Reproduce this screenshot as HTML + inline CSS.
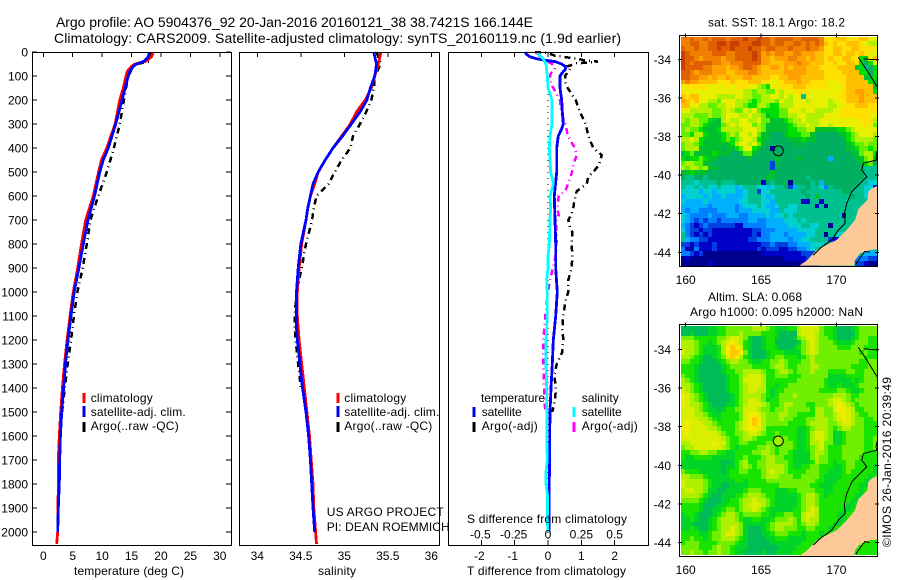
<!DOCTYPE html>
<html>
<head>
<meta charset="utf-8">
<title>Argo profile</title>
<style>
html,body{margin:0;padding:0;background:#fff;}
#fig{display:block;}
text{font-family:"Liberation Sans",sans-serif;font-size:12px;fill:#000;}
.big{font-size:14px;}
</style>
</head>
<body>
<svg id="fig" width="900" height="580" viewBox="0 0 900 580" xmlns="http://www.w3.org/2000/svg">
<rect x="0" y="0" width="900" height="580" fill="#fff"/>
<g id="marks"></g>
<text class="big" x="56" y="27" textLength="477" lengthAdjust="spacing">Argo profile: AO 5904376_92 20-Jan-2016 20160121_38 38.7421S 166.144E</text>
<text class="big" x="54" y="43" textLength="567" lengthAdjust="spacing">Climatology: CARS2009. Satellite-adjusted climatology: synTS_20160119.nc (1.9d earlier)</text>
<text x="74" y="575" textLength="110">temperature (deg C)</text>
<text x="318" y="575" textLength="38">salinity</text>
<text x="467" y="575" textLength="159">T difference from climatology</text>
<text x="467" y="523" textLength="160">S difference from climatology</text>
<text x="90.7" y="402" textLength="62">climatology</text>
<text x="90.7" y="416" textLength="95">satellite-adj. clim.</text>
<text x="90.7" y="430" textLength="88">Argo(..raw -QC)</text>
<text x="344.3" y="402" textLength="62">climatology</text>
<text x="344.3" y="416" textLength="95">satellite-adj. clim.</text>
<text x="344.3" y="430" textLength="88">Argo(..raw -QC)</text>
<text x="326.7" y="516" textLength="117">US ARGO PROJECT</text>
<text x="326.7" y="531" textLength="123">PI: DEAN ROEMMICH</text>
<text x="481" y="402" textLength="64">temperature</text>
<text x="581.7" y="402" textLength="37">salinity</text>
<text x="481.7" y="416" textLength="40">satellite</text>
<text x="581.7" y="416" textLength="40">satellite</text>
<text x="481.7" y="430" textLength="56">Argo(-adj)</text>
<text x="581.7" y="430" textLength="56">Argo(-adj)</text>
<text x="708" y="26.5" textLength="137">sat. SST: 18.1 Argo: 18.2</text>
<text x="708" y="301" textLength="94">Altim. SLA: 0.068</text>
<text x="690" y="316" textLength="173">Argo h1000: 0.095 h2000: NaN</text>
<text transform="translate(891,547) rotate(-90)" x="0" y="0" textLength="170">©IMOS 26-Jan-2016 20:39:49</text>
</svg>
<script>
// ---------- profile data ----------
const tempDepth = [0,20,30,40,50,60,80,100,150,200,300,400,450,500,600,700,800,900,1000,1100,1200,1300,1400,1500,1600,1700,1800,1900,2000,2050];
const tempClim = [18.7,18.4,17.9,17.3,15.6,15.0,14.3,14.05,13.6,13.0,12.2,10.8,9.9,9.4,8.5,7.2,6.5,5.85,5.1,4.55,4.05,3.6,3.25,2.96,2.72,2.55,2.55,2.5,2.44,2.27];
const tempSat = [18,17.85,17.45,17,15.9,15.3,14.7,14.45,13.9,13.4,12.3,11.05,10.2,9.6,8.7,7.6,6.8,6.05,5.25,4.7,4.2,3.75,3.45,3.12,2.9,2.78,2.72,2.55,2.44];
const tempArgo = [18.25,18.1,18.05,18,15.9,15.3,14.85,14.45,14.05,13.7,13,12,11.4,10.8,9.35,8,7.4,6.7,5.8,5.2,4.7,4.15,3.65,3.2];

const salDepth = [0,20,50,100,150,200,250,300,350,400,450,500,550,600,650,700,800,900,1000,1100,1150,1200,1300,1400,1500,1600,1700,1800,1900,2000,2050];
const salClim = [35.42,35.41,35.39,35.35,35.31,35.24,35.14,35.07,34.97,34.87,34.78,34.7,34.66,34.61,34.58,34.56,34.51,34.48,34.46,34.46,34.47,34.48,34.51,34.54,34.57,34.6,34.62,34.64,34.65,34.67,34.68];
const salSat = [35.34,35.35,35.37,35.35,35.3,35.26,35.18,35.08,34.98,34.87,34.78,34.7,34.64,34.61,34.58,34.56,34.5,34.47,34.45,34.45,34.45,34.46,34.49,34.52,34.56,34.59,34.61,34.625,34.64,34.66];
const salArgo = [35.37,35.39,35.42,35.35,35.34,35.31,35.25,35.18,35.1,35.07,34.97,34.89,34.82,34.68,34.65,34.63,34.56,34.51,34.45,34.43,34.43,34.44,34.47,34.5];

const diffTSatDepth = [0,10,20,30,40,50,60,70,90,100,150,200,250,300,320,350,400,500,600,700,800,900,1000,1100,1200,1300,1400,1500,1600,1800,2000];
const diffTSat = [-0.69,-0.64,-0.54,-0.29,0.21,0.41,0.51,0.53,0.41,0.36,0.36,0.41,0.43,0.46,0.41,0.31,0.26,0.26,0.19,0.21,0.23,0.23,0.28,0.23,0.16,0.13,0.09,0.06,0.05,0.04,0.04];
const diffSSatDepth = [0,10,20,30,50,100,150,200,300,350,400,500,550,600,650,700,800,850,900,950,1000,1100,1200,1300,1400,1500,1600,1700,1750,1800,1850,1950,2000];
const diffSSat = [-0.07,-0.07,-0.05,-0.035,-0.015,-0.005,0,0.03,0.03,0.015,0.01,0.02,0.04,0.015,0.02,0.015,0.01,0,0,-0.01,-0.005,-0.005,-0.015,-0.015,-0.01,-0.01,-0.01,-0.005,-0.015,-0.015,-0.003,-0.005,0];
const diffTArgoDepth = [0,5,15,25,30,35,40,48,55,60,70,90,100,130,150,200,250,300,350,400,430,470,500,520,550,580,620,650,680,700,730,750,800,850,900,950,1000,1030,1100,1150,1200,1250,1300,1350,1400,1450,1500];
const diffTArgo = [-0.39,0.01,0.2,0.7,0.95,1.1,1.5,0.85,0.7,0.56,0.66,0.56,0.51,0.53,0.59,0.83,0.96,1.13,1.21,1.36,1.61,1.53,1.36,1.21,1.16,0.86,0.79,0.76,0.69,0.61,0.66,0.73,0.71,0.73,0.71,0.61,0.61,0.53,0.46,0.43,0.46,0.43,0.26,0.19,0.24,0.21,0.13];
const diffSArgoDepth = [0,20,30,50,60,70,90,100,130,150,200,250,300,350,400,430,470,500,550,580,600,650,680,700,720,780,830,870,950,1000,1100,1200,1300,1400,1490];
const diffSArgo = [-0.085,-0.06,-0.035,0.03,0.05,0.05,0.02,0.015,0.02,0.04,0.09,0.1,0.13,0.15,0.2,0.215,0.19,0.18,0.15,0.13,0.08,0.07,0.08,0.06,0.06,0.065,0.06,0.05,0.015,0,-0.02,-0.035,-0.035,-0.03,-0.022];

// ---------- tick labels ----------
const depthTicks = [0,100,200,300,400,500,600,700,800,900,1000,1100,1200,1300,1400,1500,1600,1700,1800,1900,2000];
const tempTicks = [0,5,10,15,20,25,30];
const salTicks = [34,34.5,35,35.5,36];
const diffTTicks = [-2,-1,0,1,2];
const diffSLabels = ["-0.5","-0.25","0","0.25","0.5"];
const diffSTicks = [-0.5,-0.25,0,0.25,0.5];
const lonTicks = [160,165,170];
const latTicks = [-34,-36,-38,-40,-42,-44];

// ---------- map data: one letter per cell, A (low) .. T (high) ----------
const sstRows = [
"QQRQQRQRRRQ RRRSRRSRRQR RRRQQRRRRQN NNOONNNOOMM",
"QQRRQQRRSSR SSRRRSSRRQR RQQRRQRQRQO NONNOOONMLL",
"RQQRQQRRSRR SRRRSRRQRRQ QQRQQQRQQPN NOONNOONNNM",
"SRQQQQQRRRQ QRRRRSRPQPQ QPPQQPPPOON NOONOONONMM",
"SRRQPQQQQPQ QRRRRSRPPOP PPQQPPOPOON ONNOONNJIMO",
"SRQRRRRQQPP QQQRRRRPPOO OPPPQPPOOON NOMNOONJHJM",
"SRRRRQQPPPO PPQRRQPOOPP OPOPPPOOONN NNOOOOIJGHJ",
"RRQPQQQPPPO OPPPQQPOOOO OPPPPPOOOON NNNOOOOJJHJ",
"RRQQPPOPOOP OOOPPOOOONN OOPPPOOOOON NNNNOOOOIIJ",
"PQPPOOOONNN ONNNOOONNMM NOOOPOONNNN MMNNOOOOOJI",
"MNNNNNMMMMN MNNNMMLKJMN NNNOOONNNNN MMMNOOOOOOI",
"NMMMMMMMMMM MMMLLKLLKKM LMMNNNNMMMM MMMNOOPPOOJ",
"ONOOMMMMLLL LMMLLKKLLMM LMLMMGMMMMM MMNNOOOPOOO",
"PONOMMLLKMM MLLLKJKLLLK MLLMMMLMMMM LMMNOOOPOOO",
"OOMMLLKKLLM MLLKJJLLKJJ LLLMMMMMMMM LLMMNNOOONN",
"MMLLLLLKKLM LKKMLMKJJJJ KKMMMLMMLLL LMMNNNNNNNN",
"LLLKKKLKKLM MMLLMLLKIJJ KKLLMMLLLLM MMMNNNNNNMM",
"LKLLKKJIILM LLMMLLMKKII IJKLLMLLLMM MMMMMMMNNNL",
"KKLLKJIIIKL MLMMMKLKIII IIJKLLMLLMM LMMMMMMMNMK",
"KLKKJIIIJLL LLLMMMLKIII IIJJKKLLIII IIJJKLMMMMM",
"KKJLLJIIIJK LKMMLMKIIHH HIJJJKKIHHH HHIIJKLMMML",
"LLMLJIIIIJK JKLMMLJIIHH HHIIIJIIHHH HHHHJKLLLLK",
"KLLKJIIIIII JLMMLMKIHHH HHHIHIHHHHH HHHHIJKKLKK",
"KLLLIIIIIHI IJKMMJIHHAH HHHHHHHHHHH HHHHIIJKKJK",
"IJKIIIIJIII HHIKKIHHHHH HHHHHHHHHHH HHHHHIIKLLJ",
"JIJJKJIIHHH HHHHIHHHHHI HHHHIHHHHHH EHHHHHIIKLI",
"KLLKKIIHHHH HHHHHHHHHCI HHHHHHHHHHH HHHHHHHIJKH",
"LKLLKLIIHHH HHHHHHHHHCH HHHHHHHHHHH HHHHHHHHGGG",
"IIJIIIHHHHH HHHHHHHHHIH HHHHHHHHHHH HHHHHHHHGGG",
"HGGHHGHHHHH HHHHHHHHIIH HHHHHHGHHHH HHHHHHHHGGG",
"GGGFGGGGHGG GHHHHHHBHGH HHAHHHHGHEH HHHHHHHGGFF",
"GFFGFGFFGFF FEFGGGFFEFG GHCEGGHGGFD GHHHHHGGFFB",
"FFFFEFFEFFF FEEFGGCFFGG GGGGGHGGGGG GGGHHGGGFFF",
"EFFFFEFEEFE EEEFGGGFEFG GGGGGGHGIGG GGGGGHGGFFF",
"FEEEEFEEEEE EEFFGGGFFEG GGGGGBBGGBG GGGGGGGGGFF",
"EEEEEEDEEEE EDEFFFGFEEF GGFFGGGGBGA GGGGGGGGGGG",
"EDEEDDDDEEE EDEEEFFFFEE GFFFGGGGGGG GGGGGGGGGGG",
"FEDDDDEDDDE EEDDEEEEFEF FGFGGGGGGGG GGGBGGGGGGG",
"FEDCDCDDCDD DDDDEEDDEEE EFFFGFGGGGG GGGGGGGGGGG",
"EDCBCDCCCCC CBBDDDDDEEE EEFFFGGFFGG AGGGGGGGGGG",
"FDCCBCCBBBB BBBBBCCDDDE EEEEFFFFGGG GGGGGGGGGGG",
"GDCBCBCBBBB BBBBBCBDDEE EDEEEEFFGGA GGFFGGGGGGG",
"GEDDCCBBBBB BBBBCCDDDEE EEDEEFFGGGG CBBBGGGGGGG",
"CCBCBBBCBBB BBBBBBBCCDC CCDDEEEFFFG GBBBAGGGGGG",
"DBADBBBCBBB BBBBBBCBCCC BBCCDDEFGGC CBBAAAGGGGG",
"DDCBCAAAAAA AAAAAAABBBB BBBBBCCCBBB BAGGGGGGEEE",
"ABAAAAAAAAA AAAAAAAAAAA ABBBBBCCBAB GGGGGGDDDCC",
"AAAAAABAAAA AAAAAAAAAAA AAAAABBBBGG GGGGGGCCBAA"
];
const slaRows = [
"HHHHHHIIJJK KKKKKLLLKJI IIJJLMMMMKJ JIHHHIJKKKK",
"HHIHHHIIJJK KKLKKKKJJJI HHHHLMMMLKJ JIHHHHJKKKK",
"KKKJJJJJKKL MMLKIHHIJJI HHHIKLMMLKK JIHHHIJKKJJ",
"LLLKJJIJKLM NMLJIHHIJJH HHHHIKLMLKK KJIIIJKKKJJ",
"LLLKJIIIJLN ONMJIHHIJJI HHHIJKLMLKK KKJJJKKKJJJ",
"MLLKJIIIJLN OONKIHHHIJJ JIIIIKLMLKK KKKKKKKJKJJ",
"LLKJIHHIJKM ONLJIHHHIJK KJJJIJKLKKK KKKKKKKKJJJ",
"KKJJIHHHIJK LLKKJIIJJKK LKJJJKKLKKK KKKKKKKJJKK",
"JJJIHHHHHIJ KKKKKJJJJKL LKJJKKKLLKK KKKKKJJJJKK",
"JJJIHHHHHIJ JKKLLLLKJJK LLKJKKKLKKK JJJJKKJJKKK",
"KJJIHHHHHHI JJKLMMMLJJK KKJJJKKKKKK IIIIJJJJKKK",
"LKJIHHHHHHI JJKMMMMLJJJ JJJJKKKKKKJ IIIIIJIJKKK",
"LLKJIHHHHHI JJKLMMMLJJI JJKKKKKKKKJ IIJIIIJKKKK",
"MLKJIHHHHHI JJKLMMLLJIJ JKKKKKKKKJJ JJKKJIIJKKK",
"NMLKJIHHHHH IJKLLLLKJIJ KKKLKKKKKKK KLLLKJJKKKK",
"NMLKJIHHHHH IJKLMMLKIJJ KKKKKKKKKKK LMMLKJKKKKK",
"NMLLKJIHHHI IJKLMMMLKJJ KLLKKKJJKKK LMNMLKJKKKK",
"MMMLKJIIHIJ JKKMMMLKKJK KLKKKKKJLLK KMNNMLJJKKK",
"MMMLLKJIIJJ JJKMNNMLKKK LLKKJJJJLLK KLMNMLKJJKK",
"MMMMLLKJIJJ JJKMNONLKKK LKKJJJKKLLL KLMNMLKKJJK",
"MNMMMLLKJJJ JKLMNONLKKK KKJJJJKLLLL KKLMMLKKJJJ",
"NNMMMMLLKJJ JKLMNNMLJJJ JJJJIIJKLLL KJKLLKKKJJJ",
"MNMMMMMMLKJ JKKLMMLKJJK JJJJIIJLMML KIIJKKKKJJJ",
"MMMMMMMMMLK JJKLLKJJJJK KKJJIIJLMML KIIJKKKKJJK",
"LLMMMMMNMMK JJKKJJJJKKL KKKJIIJLLMK KIIJKKKKJJK",
"KLLMMMMMMLK JIJJJJKKLKJ KKKJIIJKLMK JJJKKKKKJJK",
"JJKKLLKKJJI IJJJJKKLLKJ KKJIIIIKLLK JJJKKKKKJJJ",
"JIIJJJJIIII IJJKJJJKLLK KJJIIIIKLKK JJJKKKKJJJJ",
"IIIIIIIIIHH IJKLJJKKLLK KKJIIIIJLKK JIJJKKJJJJJ",
"IIIIIIIIIHI IJKLKJKKLLL LKJIIJJKKJJ JIIJKKJJJJI",
"KJJJIIIIIHI JJKKJJJKLML LKJJJJKKKJJ IIIJKJJJJJI",
"LLKKKJIIIII JJJJJJJKLLL KKKJJKKKKJI IIIJJJJJJIJ",
"MLLLLKJIIII IJJIJJJJKKK KKKKKKKKJJI IIJJJJJJIIJ",
"MLLLLKJIIHH IIIIJJJJJJJ KKKKKKKJJII IJJJJJJIIJJ",
"LMMLLKIIHHI IIIJKKKJJJI IIJJKKKKJJI IJJJJJJIJJJ",
"LLLLKJIHHII IJJKLLLKJJI IIIIJKLLKJI JJJJJJIIJJJ",
"KKKKJIHHHII JJKLLMLLKJI IIIIJKLLKJJ JJJJJIIJJJJ",
"JJJJIHHHIIJ JJKLMMMLKJI IIIIJKLLKJJ JJJJIIJJJJJ",
"JJJJIHHIIJK KJKLLMLKJII IIIJJKLMLJJ JJJIIJJJJJJ",
"IJJIHHHIJKL LKJKKKKJJIJ JKKJJLMMLJJ JJIIJJJJJJJ",
"IIJIHHIJKLL LKJIIJJIIJK KKLKJLMLLJJ JJIIJJJJJJJ",
"IIIHHHIJKLL LLKIIIIIJKL LLLKJKLLKJJ JIIJJJJJJJJ",
"IIJIHHIJKLL MLKIHHHIJKL LKKKJJKKJJJ IJJJJJJJJJJ",
"JJJJIIJKKLM MLKIHHHIIJK KKJJJIJJJIJ JJJJJJJJJJJ",
"JJKJJIJKKLL LKJIHHHHIIJ JJIIIIJJJJJ JJJJJJJJJJJ",
"JKKKJJJJKKK KJIIHHHHHII IIIIIJJJJJJ JJJJKLKKJJJ",
"KKKKJJJKLKK JIIIHHHHHHH IIIIJJJJJJJ JJJJJJJJJJJ",
"KKLKKJKKLKK JIIHHHHIHHI IIIJJJJJJJJ JJJJIIJJJJJ"
];
const levelCodes = "ABCDEFGHIJKLMNOPQRST";
const sstColors = ["#000090","#0000c8","#0040e0","#0080ff","#00b0ff","#00d0d0","#00c090","#00b060","#00c030","#00e000","#60f000","#b0f000","#e8f000","#ffe000","#ffc000","#ffa000","#f08000","#e06000","#c84000","#b03000"];
const slaColors = ["#000090","#0000c8","#0040e0","#0080ff","#00b0ff","#00d0d0","#00c090","#00bc58","#00d428","#18e400","#70f000","#aef000","#d8f000","#f4ec00","#ffc800","#ffa000","#f08000","#e06000","#c84000","#b03000"];

// coast and contours in lon / lat
const landLon = [172.72,172.35,172.12,172.06,171.46,171.24,170.69,170.02,169.58,168.69,168.03,167.54,171.17,171.24,171.57,172.23,172.72];
const landLat = [-40.56,-40.68,-40.86,-41.29,-41.75,-42.32,-42.84,-43.36,-43.53,-43.88,-44.43,-44.69,-44.69,-44.4,-44.05,-43.88,-43.84];
const contourALon = [171.46,171.79,172.01,172.35,172.72];
const contourALat = [-33.9,-34.29,-34.55,-34.98,-35.45];
const contourBLon = [171.79,172.2,172.72];
const contourBLat = [-33.97,-34.0,-34.03];
const contourCLon = [172.72,172.63,172.68,171.79,171.68,172.01,171.46,171.02,170.69,170.53,170.58,170.13,169.69,168.92,168.47];
const contourCLat = [-38.70,-39.04,-39.22,-39.39,-39.73,-40.08,-40.51,-40.86,-41.46,-41.98,-42.50,-42.84,-43.36,-43.79,-44.14];
const contourDLon = [171.3,171.6,171.9,172.2];
const contourDLat = [-44.6,-44.25,-43.95,-44.0];
const argoLon = 166.144;
const argoLat = -38.7421;

// ---------- axis functions ----------
function yDepth(d){return 52+0.24*d;}
function xTemp(v){return 43.3+5.883*v;}
function xSal(v){return 257.3+87*(v-34);}
function xDiffT(v){return 548+33.33*v;}
function xDiffS(v){return 548+133.3*v;}
function xLon(v){return 685.7+15.07*(v-160);}
function yLatTop(v){return 59.3+19.3*(-34-v);}
function yLatBottom(v){return 349.3+19.33*(-34-v);}

const NS = "http://www.w3.org/2000/svg";
const marks = document.getElementById("marks");
function make(tag, attrs){
  const el = document.createElementNS(NS, tag);
  for (const k in attrs) el.setAttribute(k, attrs[k]);
  marks.appendChild(el);
  return el;
}
function pointsFor(depths, values, xFn){
  const pts = [];
  for (let i = 0; i < values.length; i++) pts.push(xFn(values[i]).toFixed(1)+","+yDepth(depths[i]).toFixed(1));
  return pts.join(" ");
}
function drawCurve(depths, values, xFn, color, dash, name){
  const el = make("polyline", {points: pointsFor(depths, values, xFn), fill: "none", stroke: color, "stroke-width": dash ? 2.5 : 2.8, "shape-rendering": "crispEdges"});
  if (dash) el.setAttribute("stroke-dasharray", dash);
  
  
}
function drawTick(x1, y1, x2, y2){
  const el = make("line", {x1: x1, y1: y1, x2: x2, y2: y2, stroke: "#000", "stroke-width": 1, "shape-rendering": "crispEdges"});
  
  
}
function drawLabel(x, y, anchor, str){
  const el = make("text", {x: x, y: y, "text-anchor": anchor});
  el.textContent = str;
  
  
}
function drawFrame(x0, y0, x1, y1, name){
  const el = make("rect", {x: x0, y: y0, width: x1-x0, height: y1-y0, fill: "none", stroke: "#000", "stroke-width": 1, "shape-rendering": "crispEdges"});
  
  
}
function drawLegendBar(x, y0, y1, color){
  const el = make("line", {x1: x, y1: y0, x2: x, y2: y1, stroke: color, "stroke-width": 3, "shape-rendering": "crispEdges"});
  
  
}

const DASH = "6 4 1 4";
const RED = "#ff0000", BLUE = "#0000ff", CYAN = "#00ffff", MAGENTA = "#ff00ff";

// ---------- temperature panel ----------
drawCurve(tempDepth, tempArgo, xTemp, "#000", DASH, "temperature-argo-line");
drawCurve(tempDepth, tempClim, xTemp, RED, null, "temperature-climatology-line");
drawCurve(tempDepth, tempSat, xTemp, BLUE, null, "temperature-satellite-line");
drawFrame(32.5, 52.5, 231.5, 545.5, "temperature-panel-frame");
for (const d of depthTicks) {
  drawTick(32, yDepth(d), 37, yDepth(d));
  drawTick(226, yDepth(d), 231, yDepth(d));
  drawLabel(28, yDepth(d)+4.5, "end", String(d));
}
for (const t of tempTicks) {
  drawTick(xTemp(t), 52, xTemp(t), 57);
  drawLabel(xTemp(t), 560, "middle", String(t));
}
drawLegendBar(84, 393, 403, RED);
drawLegendBar(84, 406, 417, BLUE);
drawLegendBar(84, 422, 432, "#000");

// ---------- salinity panel ----------
drawCurve(salDepth, salArgo, xSal, "#000", DASH, "salinity-argo-line");
drawCurve(salDepth, salClim, xSal, RED, null, "salinity-climatology-line");
drawCurve(salDepth, salSat, xSal, BLUE, null, "salinity-satellite-line");
drawFrame(239.5, 52.5, 439.5, 545.5, "salinity-panel-frame");
for (const s of salTicks) {
  drawTick(xSal(s), 52, xSal(s), 57);
  drawLabel(xSal(s), 560, "middle", String(s));
}
drawLegendBar(338, 393, 403, RED);
drawLegendBar(338, 406, 417, BLUE);
drawLegendBar(338, 422, 432, "#000");

// ---------- difference panel ----------
const zeroLine = make("line", {x1: xDiffT(0), y1: yDepth(100), x2: xDiffT(0), y2: yDepth(2050), stroke: "#000", "stroke-width": 1, "stroke-dasharray": "1 5", "shape-rendering": "crispEdges"});


drawCurve(diffTArgoDepth, diffTArgo, xDiffT, "#000", DASH, "t-difference-argo-line");
drawCurve(diffSArgoDepth, diffSArgo, xDiffS, MAGENTA, DASH, "s-difference-argo-line");
drawCurve(diffTSatDepth, diffTSat, xDiffT, BLUE, null, "t-difference-satellite-line");
drawCurve(diffSSatDepth, diffSSat, xDiffS, CYAN, null, "s-difference-satellite-line");
drawFrame(448.5, 52.5, 648.5, 545.5, "difference-panel-frame");
for (const t of diffTTicks) {
  drawTick(xDiffT(t), 52, xDiffT(t), 57);
  drawTick(xDiffT(t), 540, xDiffT(t), 545);
  drawLabel(xDiffT(t) + (t < 0 ? -2 : 0), 560, "middle", String(t));
}
diffSTicks.forEach(function(s, i){
  drawLabel(xDiffS(s) + (s < 0 ? -1 : 0), 538.5, "middle", diffSLabels[i]);
});
drawLegendBar(474, 407, 417, BLUE);
drawLegendBar(574, 407, 417, CYAN);
drawLegendBar(474, 422, 432, "#000");
drawLegendBar(574, 422, 432, MAGENTA);

// ---------- maps ----------
function drawMap(rows, palette, imgX, imgY, imgW, imgH, cellName){
  const cw = imgW/44, ch = imgH/rows.length;
  rows.forEach(function(rowStr, r){
    const row = rowStr.replace(/ /g, "");
    for (let c = 0; c < row.length; c++) {
      const level = levelCodes.indexOf(row[c]);
      const x0 = Math.round(imgX + c*cw), x1 = Math.round(imgX + (c+1)*cw);
      const y0 = Math.round(imgY + r*ch), y1 = Math.round(imgY + (r+1)*ch);
      const cell = make("rect", {x: x0, y: y0, width: x1-x0, height: y1-y0, fill: palette[level]});
      
      
    }
  });
}
function geoPoints(lons, lats, yFn){
  return lons.map(function(lon, i){ return xLon(lon).toFixed(1)+","+yFn(lats[i]).toFixed(1); }).join(" ");
}
function drawMapOverlays(yFn, top, bottom, circleFill, prefix){
  const land = make("polygon", {points: geoPoints(landLon, landLat, yFn), fill: "#fdc998", stroke: "none"});
  
  
  [[contourALon, contourALat],[contourBLon, contourBLat],[contourCLon, contourCLat],[contourDLon, contourDLat]].forEach(function(pair){
    const line = make("polyline", {points: geoPoints(pair[0], pair[1], yFn), fill: "none", stroke: "#000", "stroke-width": 1, "shape-rendering": "crispEdges"});
    
    
  });
  const dot = make("circle", {cx: xLon(argoLon), cy: yFn(argoLat), r: 5, fill: circleFill, stroke: "#000", "stroke-width": 1});
  
  
  drawFrame(679.5, top, 877.5, bottom, prefix + '-frame');
  for (const lon of lonTicks) {
    drawTick(xLon(lon), top-2, xLon(lon), top+2);
    drawLabel(xLon(lon), bottom === 266.5 ? 284 : 574, "middle", String(lon));
  }
  for (const lat of latTicks) {
    drawTick(678, yFn(lat), 682, yFn(lat));
    drawTick(875, yFn(lat), 879, yFn(lat));
    drawLabel(671, yFn(lat)+4.5, "end", String(lat));
  }
}
drawMap(sstRows, sstColors, 681, 36.7, 196.3, 229, "sst-cell");
drawMapOverlays(yLatTop, 35.5, 266.5, "none", "sst-map");
drawMap(slaRows, slaColors, 681, 326, 196.3, 229, "sla-cell");
drawMapOverlays(yLatBottom, 324.5, 556.5, "#a0f000", "sla-map");

// keep titles above marks
const svg = document.getElementById("fig");
Array.from(svg.querySelectorAll(":scope > text")).forEach(function(t){ svg.appendChild(t); });
</script>
</body>
</html>
